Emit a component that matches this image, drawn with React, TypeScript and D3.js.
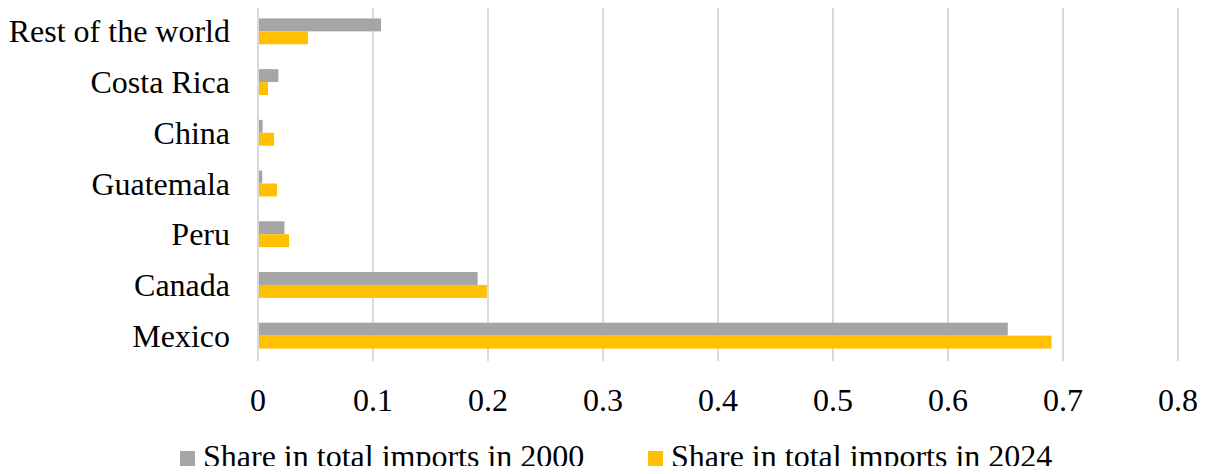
import { useEffect, useRef } from 'react';
import * as d3 from 'd3';

const countries = ['Rest of the world', 'Costa Rica', 'China', 'Guatemala', 'Peru', 'Canada', 'Mexico'];
const share2000 = [0.107, 0.0177, 0.004, 0.0037, 0.023, 0.191, 0.652];
const share2024 = [0.0435, 0.0087, 0.014, 0.0165, 0.027, 0.199, 0.69];
const xTicks = [0, 0.1, 0.2, 0.3, 0.4, 0.5, 0.6, 0.7, 0.8];
const seriesNames = ['Share in total imports in 2000', 'Share in total imports in 2024'];
const seriesColors = ['#a5a5a5', '#ffc000'];

export default function App() {
  const svgRef = useRef<SVGSVGElement>(null);

  useEffect(() => {
    if (!svgRef.current) return;
    const svg = d3.select(svgRef.current);
    svg.selectAll('*').remove();

    const width = 1207;
    const height = 474;
    const font = '"Liberation Serif", "Times New Roman", serif';

    const x = d3.scaleLinear().domain([0, 0.8]).range([258, 1178]);
    const y = d3.scaleBand<string>().domain(countries).range([6, 361]).paddingInner(0.49).paddingOuter(0.245);
    const sub = d3.scaleBand<number>().domain([0, 1]).range([0, y.bandwidth()]);

    svg.attr('width', width).attr('height', height).style('display', 'block');

    // gridlines
    svg
      .append('g')
      .selectAll('line')
      .data(xTicks)
      .enter()
      .append('line')
      .attr('x1', (d) => x(d))
      .attr('x2', (d) => x(d))
      .attr('y1', 6)
      .attr('y2', 361)
      .attr('stroke', '#d9d9d9')
      .attr('stroke-width', 2);

    // bars
    const series = [share2000, share2024];
    series.forEach((vals, si) => {
      svg
        .append('g')
        .selectAll('rect')
        .data(countries)
        .enter()
        .append('rect')
        .attr('x', x(0) + 1)
        .attr('y', (d) => (y(d) as number) + (sub(si) as number))
        .attr('width', (d, i) => x(vals[i]) - x(0) - 1)
        .attr('height', sub.bandwidth())
        .attr('fill', seriesColors[si]);
    });

    // category labels
    svg
      .append('g')
      .selectAll('text')
      .data(countries)
      .enter()
      .append('text')
      .attr('x', 230)
      .attr('y', (d) => (y(d) as number) + y.bandwidth() / 2 + 11)
      .attr('text-anchor', 'end')
      .style('font-family', font)
      .style('font-size', '32px')
      .text((d) => d);

    // x tick labels
    svg
      .append('g')
      .selectAll('text')
      .data(xTicks)
      .enter()
      .append('text')
      .attr('x', (d) => x(d))
      .attr('y', 411)
      .attr('text-anchor', 'middle')
      .style('font-family', font)
      .style('font-size', '32px')
      .text((d) => (d === 0 ? '0' : d3.format('.1f')(d)));

    // legend
    const legendX = [180, 648];
    seriesNames.forEach((name, i) => {
      const g = svg.append('g').attr('transform', `translate(${legendX[i]},0)`);
      g.append('rect').attr('x', 0).attr('y', 451).attr('width', 15).attr('height', 15).attr('fill', seriesColors[i]);
      g.append('text')
        .attr('x', 23)
        .attr('y', 467)
        .style('font-family', font)
        .style('font-size', '32px')
        .text(name);
    });
  }, []);

  return (
    <div style={{ margin: -8 }}>
      <svg ref={svgRef}></svg>
    </div>
  );
}
